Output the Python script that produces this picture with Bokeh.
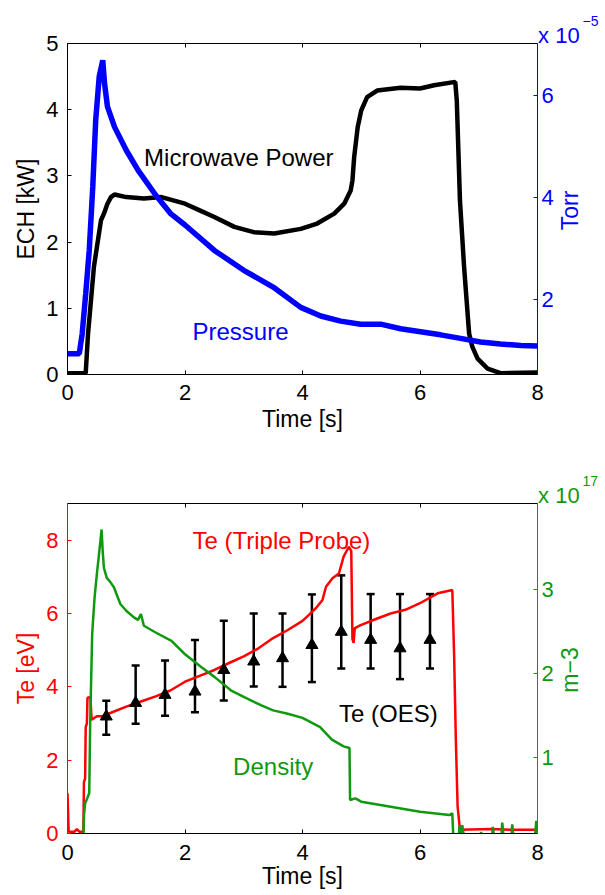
from bokeh.plotting import figure
from bokeh.models import (Range1d, LinearAxis, FixedTicker, Label, Whisker,
                          TeeHead, ColumnDataSource, Title, CustomJSTickFormatter)
from bokeh.layouts import column
from bokeh.embed import file_html
from bokeh.resources import INLINE
import math

FONT = "Liberation Sans"
BLUE = "#0000ff"
RED = "#ff0000"
GREEN = "#0f990f"

# ---------------- top panel data ----------------
x_ticks = [0, 2, 4, 6, 8]
ech_ticks = [0, 1, 2, 3, 4, 5]
torr_ticks = [2, 4, 6]

t_ech = [0.0, 0.31, 0.35, 0.45, 0.57, 0.62, 0.68, 0.74, 0.8, 1.0, 1.3, 1.6, 1.8,
         2.0, 2.25, 2.5, 2.84, 3.17, 3.52, 3.97, 4.25, 4.54, 4.71, 4.82, 4.85,
         4.88, 4.94, 5.0, 5.1, 5.27, 5.67, 6.0, 6.24, 6.6, 6.626, 6.68, 6.75,
         6.836, 6.89, 6.98, 7.15, 7.37, 8.0]
ech_kw = [0.02, 0.02, 0.62, 1.63, 2.33, 2.43, 2.58, 2.68, 2.72, 2.68, 2.66, 2.68, 2.63,
          2.58, 2.48, 2.38, 2.23, 2.15, 2.13, 2.2, 2.28, 2.43, 2.58, 2.78, 2.93,
          3.29, 3.74, 3.99, 4.19, 4.29, 4.33, 4.32, 4.37, 4.42, 4.14, 2.63, 1.63,
          0.62, 0.42, 0.24, 0.09, 0.02, 0.03]

t_p = [0.0, 0.2, 0.25, 0.31, 0.37, 0.43, 0.48, 0.54, 0.6, 0.63, 0.68, 0.8, 1.0,
       1.2, 1.5, 1.75, 2.0, 2.5, 3.0, 3.5, 3.97, 4.31, 4.65, 4.99, 5.33, 5.67,
       6.01, 6.35, 6.69, 7.03, 7.37, 7.72, 8.0]
p_torr_e5 = [0.93, 0.93, 1.32, 2.11, 2.96, 4.21, 5.52, 6.38, 6.70, 6.25, 5.79, 5.39, 4.93,
             4.54, 4.05, 3.69, 3.46, 2.96, 2.57, 2.24, 1.84, 1.67, 1.57, 1.51, 1.51, 1.42,
             1.36, 1.30, 1.23, 1.16, 1.12, 1.09, 1.08]

# ---------------- bottom panel data ----------------
te_ticks = [0, 2, 4, 6, 8]
dens_ticks = [1, 2, 3]

t_te = [0.0, 0.02, 0.12, 0.16, 0.2, 0.27, 0.28, 0.3, 0.31, 0.33, 0.34, 0.39, 0.41,
        0.5, 0.6, 0.75, 1.0, 1.25, 1.5, 1.75, 2.0, 2.25, 2.5, 2.75, 3.0, 3.25,
        3.5, 3.75, 4.0, 4.1, 4.23, 4.34, 4.4, 4.51, 4.62, 4.7, 4.79, 4.83, 4.85,
        4.87, 4.89, 5.0, 5.25, 5.5, 5.75, 6.0, 6.3, 6.55, 6.58, 6.61, 6.64, 6.68,
        7.2, 7.6, 8.0]
te_ev = [1.1, 0.05, 0.05, 0.12, 0.05, 0.05, 1.4, 1.5, 2.9, 3.0, 3.7, 3.72, 3.1,
         3.2, 3.2, 3.3, 3.46, 3.6, 3.74, 3.9, 4.14, 4.3, 4.46, 4.65, 4.83, 5.05,
         5.33, 5.55, 5.8, 5.95, 6.15, 6.37, 6.73, 6.96, 7.09, 7.55, 7.82, 7.7, 5.3,
         5.2, 5.6, 5.69, 5.85, 6.0, 6.1, 6.28, 6.55, 6.64, 4.92, 2.56, 0.74, 0.1,
         0.12, 0.1, 0.1]

t_n = [0.0, 0.27, 0.28, 0.3, 0.33, 0.37, 0.385, 0.42, 0.46, 0.5, 0.56, 0.58, 0.6,
       0.62, 0.67, 0.72, 0.79, 0.85, 0.9, 1.0, 1.13, 1.2, 1.25, 1.3, 1.5, 1.77,
       2.0, 2.27, 2.5, 2.78, 3.0, 3.3, 3.5, 3.75, 4.0, 4.3, 4.5, 4.7, 4.8, 4.81,
       4.9, 5.0, 5.5, 6.0, 6.5, 6.55, 6.57, 6.66, 6.67, 6.7, 6.72, 6.76, 7.02,
       7.04, 7.06, 7.22, 7.24, 7.27, 7.38, 7.4, 7.43, 7.55, 7.57, 7.6, 7.95,
       7.98, 8.0]
n_e17 = [0.0, 0.0, 0.3, 0.45, 0.5, 0.57, 1.36, 2.47, 2.9, 3.19, 3.58, 3.72, 3.45,
         3.26, 3.14, 3.1, 3.03, 2.92, 2.83, 2.75, 2.67, 2.64, 2.71, 2.57, 2.49, 2.39,
         2.23, 2.08, 1.96, 1.80, 1.72, 1.62, 1.56, 1.52, 1.47, 1.36, 1.21, 1.13, 1.11,
         0.49, 0.51, 0.47, 0.41, 0.35, 0.31, 0.33, 0.0, 0.0, 0.18, 0.05, 0.19, 0.0,
         0.0, 0.11, 0.0, 0.0, 0.17, 0.0, 0.0, 0.22, 0.0, 0.0, 0.2, 0.0, 0.0,
         0.24, 0.1]

t_oes = [0.66, 1.16, 1.66, 2.17, 2.66, 3.17, 3.66, 4.16, 4.66, 5.16, 5.66, 6.17]
te_oes = [3.19, 3.56, 3.78, 3.87, 4.46, 4.69, 4.78, 5.14, 5.5, 5.28, 5.05, 5.28]
te_oes_lo = [2.69, 2.99, 3.21, 3.31, 3.63, 4.01, 4.0, 4.13, 4.5, 4.5, 4.21, 4.5]
te_oes_hi = [3.62, 4.58, 4.72, 5.28, 5.8, 6.0, 6.0, 6.52, 7.04, 6.53, 6.53, 6.53]

TICK_FS = "22px"
LAB_FS = "23px"
ANN_FS = "24px"


def style_axis(ax, color, ticks, labels=True):
    ax.ticker = FixedTicker(ticks=ticks)
    ax.axis_line_color = color
    ax.axis_line_width = 1
    ax.major_tick_line_color = color
    ax.major_tick_in = 4
    ax.major_tick_out = 0
    ax.minor_tick_line_color = None
    ax.major_label_text_font = FONT
    if labels:
        ax.major_label_text_color = color
        ax.major_label_text_font_size = TICK_FS
    else:
        ax.major_label_text_color = None
        ax.major_label_text_font_size = "1px"
        ax.major_label_standoff = 3
    ax.axis_label_text_font = FONT
    ax.axis_label_text_font_size = LAB_FS
    ax.axis_label_text_font_style = "normal"
    ax.axis_label_text_color = color


def right_title_axis(p, text, color, start_pos, standoff):
    """Upward-reading axis title on the right, drawn as the single label of a bare axis."""
    ax = LinearAxis(ticker=FixedTicker(ticks=[start_pos]),
                    formatter=CustomJSTickFormatter(code="return %r;" % text))
    ax.axis_line_color = None
    ax.major_tick_line_color = None
    ax.minor_tick_line_color = None
    ax.major_tick_in = 0
    ax.major_tick_out = 0
    ax.major_label_orientation = math.pi / 2
    ax.major_label_standoff = standoff
    ax.major_label_text_font = FONT
    ax.major_label_text_font_size = LAB_FS
    ax.major_label_text_color = color
    p.add_layout(ax, "right")


def exponent_titles(p, base_text, exp_text, color, base_standoff):
    base = Title(text=base_text, align="left", offset=470.6, standoff=0,
                 text_font=FONT, text_font_size="22px", text_font_style="normal",
                 text_color=color)
    try:
        base.standoff = base_standoff
    except Exception:
        pass
    p.add_layout(base, "above")
    p.add_layout(Title(text=exp_text, align="left", offset=515, standoff=0,
                       text_font=FONT, text_font_size="14px", text_font_style="normal",
                       text_color=color), "above")


def make_fig(height, y_range, border_top, border_bottom):
    p = figure(width=603, height=height, x_range=Range1d(0, 8), y_range=y_range,
               output_backend="svg", toolbar_location=None, title=None,
               min_border_left=67, min_border_right=66,
               min_border_top=border_top, min_border_bottom=border_bottom)
    p.xgrid.visible = False
    p.ygrid.visible = False
    p.outline_line_color = None
    p.background_fill_color = "white"
    p.border_fill_color = "white"
    return p


# ================= TOP =================
p1 = make_fig(460, Range1d(0, 5), 43, 86)
p1.extra_y_ranges = {"torr": Range1d(0.52, 7.03)}
style_axis(p1.xaxis[0], "black", x_ticks)
p1.xaxis[0].axis_label = "Time [s]"
p1.xaxis[0].major_label_standoff = 10
p1.xaxis[0].axis_label_standoff = 3
style_axis(p1.yaxis[0], "black", ech_ticks)
p1.yaxis[0].axis_label = "ECH [kW]"
p1.yaxis[0].major_label_standoff = 9
p1.yaxis[0].axis_label_standoff = 4
top1 = LinearAxis()
style_axis(top1, "black", x_ticks, labels=False)
p1.add_layout(top1, "above")
r1 = LinearAxis(y_range_name="torr")
style_axis(r1, BLUE, torr_ticks)
r1.major_label_standoff = 4
p1.add_layout(r1, "right")
right_title_axis(p1, "Torr", BLUE, 2.18, 14)
exponent_titles(p1, "x 10", "\u22125", BLUE, -9)

p1.line(t_ech, ech_kw, line_color="black", line_width=4.5)
p1.line(t_p, p_torr_e5, line_color=BLUE, line_width=5.5, y_range_name="torr")

p1.add_layout(Label(x=1.304, y=3.278, text="Microwave Power", text_color="black",
                    text_font=FONT, text_font_size=ANN_FS, text_baseline="alphabetic"))
p1.add_layout(Label(x=2.128, y=0.644, text="Pressure", text_color=BLUE,
                    text_font=FONT, text_font_size=ANN_FS, text_baseline="alphabetic"))

# ================= BOTTOM =================
p2 = make_fig(434, Range1d(0, 9), 43, 61)
p2.extra_y_ranges = {"dens": Range1d(0.09, 4.03)}
style_axis(p2.xaxis[0], "black", x_ticks)
p2.xaxis[0].axis_label = "Time [s]"
p2.xaxis[0].major_label_standoff = 11
p2.xaxis[0].axis_label_standoff = 0
style_axis(p2.yaxis[0], RED, te_ticks)
p2.yaxis[0].axis_label = "Te [eV]"
p2.yaxis[0].major_label_standoff = 9
p2.yaxis[0].axis_label_standoff = 4
top2 = LinearAxis()
style_axis(top2, "black", x_ticks, labels=False)
p2.add_layout(top2, "above")
r2 = LinearAxis(y_range_name="dens")
style_axis(r2, GREEN, dens_ticks)
r2.major_label_standoff = 4
p2.add_layout(r2, "right")
right_title_axis(p2, "m\u22123", GREEN, 3.84, 14)
exponent_titles(p2, "x 10", "17", GREEN, -9)

p2.line(t_te, te_ev, line_color=RED, line_width=2.5)
p2.line(t_n, n_e17, line_color=GREEN, line_width=2.5, y_range_name="dens")

oes = ColumnDataSource(dict(t=t_oes, te=te_oes, lo=te_oes_lo, hi=te_oes_hi))
p2.add_layout(Whisker(source=oes, base="t", lower="lo", upper="hi",
                      line_color="black", line_width=2.5,
                      upper_head=TeeHead(size=8, line_color="black", line_width=2.5),
                      lower_head=TeeHead(size=8, line_color="black", line_width=2.5)))
p2.scatter("t", "te", source=oes, marker="triangle", size=12,
           fill_color="black", line_color="black")

p2.add_layout(Label(x=2.128, y=7.98, text="Te (Triple Probe)", text_color=RED,
                    text_font=FONT, text_font_size=ANN_FS, text_baseline="alphabetic"))
p2.add_layout(Label(x=4.623, y=3.28, text="Te (OES)", text_color="black",
                    text_font=FONT, text_font_size=ANN_FS, text_baseline="alphabetic"))
p2.add_layout(Label(x=2.819, y=1.82, text="Density", text_color=GREEN,
                    text_font=FONT, text_font_size=ANN_FS, text_baseline="alphabetic"))

layout = column(p1, p2)
open("out.html", "w").write(file_html(layout, INLINE))
